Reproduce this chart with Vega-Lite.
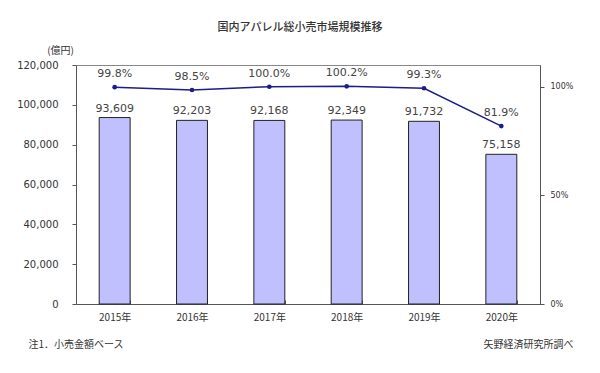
{
  "$schema": "https://vega.github.io/schema/vega-lite/v6.json",
  "autosize": "none",
  "width": 464,
  "height": 239,
  "padding": {"left": 76, "top": 65, "right": 60, "bottom": 69},
  "background": "white",
  "config": {
    "font": "DejaVu Sans",
    "view": {"stroke": "#888888", "strokeWidth": 1}
  },
  "title": {
    "text": "国内アパレル総小売市場規模推移",
    "font": "Noto Sans CJK JP",
    "fontSize": 11,
    "fontWeight": 500,
    "color": "#333333",
    "anchor": "middle",
    "dx": -8,
    "offset": 12
  },
  "data": {
    "values": [
      {"year": "2015年", "value": 93609, "ratio": 0.998, "ratioLabel": "99.8%"},
      {"year": "2016年", "value": 92203, "ratio": 0.985, "ratioLabel": "98.5%"},
      {"year": "2017年", "value": 92168, "ratio": 1.0, "ratioLabel": "100.0%"},
      {"year": "2018年", "value": 92349, "ratio": 1.002, "ratioLabel": "100.2%"},
      {"year": "2019年", "value": 91732, "ratio": 0.993, "ratioLabel": "99.3%"},
      {"year": "2020年", "value": 75158, "ratio": 0.819, "ratioLabel": "81.9%"}
    ]
  },
  "encoding": {
    "x": {
      "field": "year",
      "type": "ordinal",
      "sort": null,
      "scale": {"paddingInner": 0.6, "paddingOuter": 0.3},
      "axis": {
        "title": "注1．小売金額ベース",
        "titleFont": "Noto Sans CJK JP",
        "titleFontSize": 10,
        "titleFontWeight": "normal",
        "titleColor": "#333333",
        "titleX": -48,
        "titleY": 40,
        "titleAlign": "left",
        "titleBaseline": "middle",
        "labelAngle": 0,
        "labelFont": "Noto Sans CJK JP",
        "labelFontSize": 10,
        "labelColor": "#333333",
        "labelPadding": 12,
        "tickBand": "extent",
        "tickSize": -4,
        "tickColor": "#555555",
        "domainColor": "#555555"
      }
    }
  },
  "layer": [
    {
      "mark": {"type": "bar", "color": "#c0c0ff", "stroke": "#222222", "strokeWidth": 1},
      "encoding": {
        "y": {
          "field": "value",
          "type": "quantitative",
          "scale": {"domain": [0, 120000], "nice": false},
          "axis": {
            "values": [0, 20000, 40000, 60000, 80000, 100000, 120000],
            "format": ",.0f",
            "grid": false,
            "labelFontSize": 10,
            "labelColor": "#333333",
            "labelPadding": 14,
            "tickSize": 4,
            "tickColor": "#555555",
            "domainColor": "#555555",
            "title": "(億円)",
            "titleFont": "Noto Sans CJK JP",
            "titleFontSize": 10,
            "titleFontWeight": "normal",
            "titleColor": "#333333",
            "titleAngle": 0,
            "titleX": -16,
            "titleY": -15,
            "titleAlign": "center",
            "titleBaseline": "middle"
          }
        }
      }
    },
    {
      "mark": {"type": "text", "dy": -9, "fontSize": 11, "color": "#444444"},
      "encoding": {
        "y": {"field": "value", "type": "quantitative", "scale": {"domain": [0, 120000], "nice": false}, "axis": null},
        "text": {"field": "value", "type": "quantitative", "format": ",.0f"}
      }
    },
    {
      "mark": {"type": "line", "color": "#1c1c8c", "strokeWidth": 1.5, "point": {"filled": true, "size": 22, "color": "#1c1c8c"}},
      "encoding": {
        "y": {
          "field": "ratio",
          "type": "quantitative",
          "scale": {"domain": [0, 1.1], "nice": false},
          "axis": {
            "orient": "right",
            "values": [0, 0.5, 1],
            "format": ".0%",
            "grid": false,
            "labelFontSize": 8,
            "labelColor": "#333333",
            "labelPadding": 6,
            "tickSize": 4,
            "tickColor": "#555555",
            "domainColor": "#555555",
            "title": "矢野経済研究所調べ",
            "titleFont": "Noto Sans CJK JP",
            "titleFontSize": 10,
            "titleFontWeight": "normal",
            "titleColor": "#333333",
            "titleAngle": 0,
            "titleX": 33,
            "titleY": 279,
            "titleAlign": "right",
            "titleBaseline": "middle"
          }
        }
      }
    },
    {
      "mark": {"type": "text", "dy": -13, "fontSize": 11, "color": "#444444"},
      "encoding": {
        "y": {"field": "ratio", "type": "quantitative", "scale": {"domain": [0, 1.1], "nice": false}, "axis": null},
        "text": {"field": "ratioLabel", "type": "nominal"}
      }
    }
  ],
  "resolve": {"scale": {"y": "independent"}, "axis": {"y": "independent"}}
}
